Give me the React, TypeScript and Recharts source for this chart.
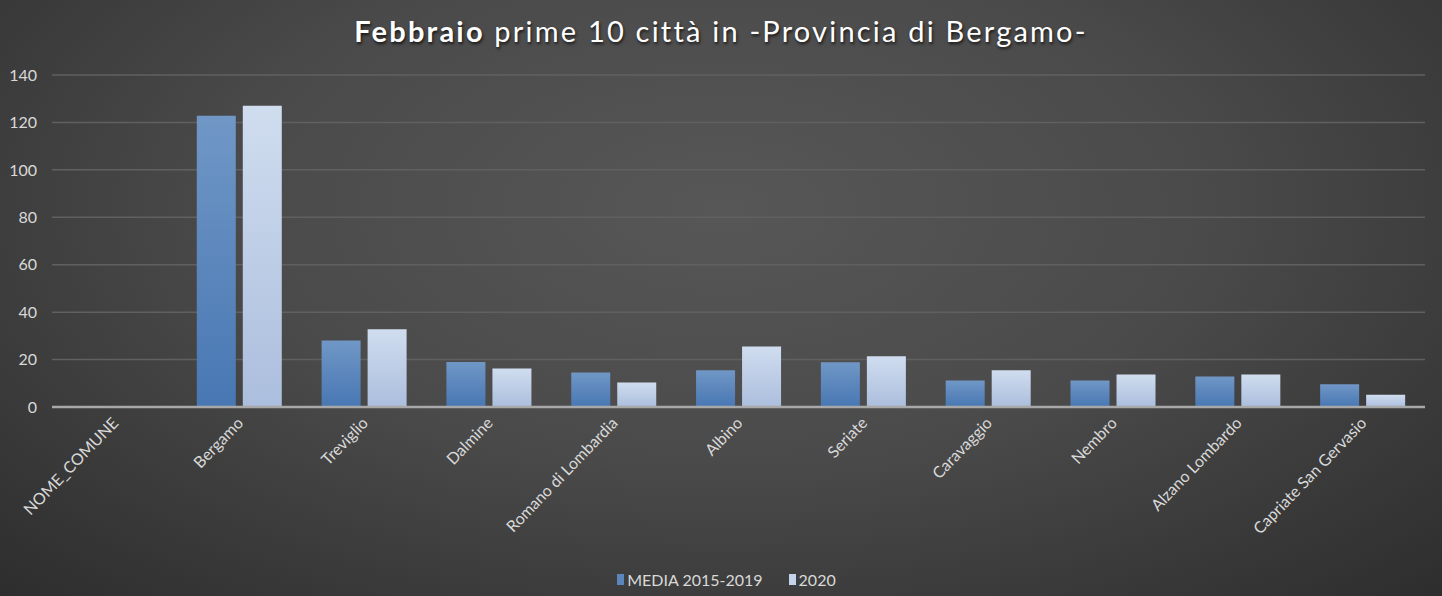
import React from "react";
import { Bar, BarChart, CartesianGrid, Legend, XAxis, YAxis } from "recharts";

const comuni = [
  "NOME_COMUNE",
  "Bergamo",
  "Treviglio",
  "Dalmine",
  "Romano di Lombardia",
  "Albino",
  "Seriate",
  "Caravaggio",
  "Nembro",
  "Alzano Lombardo",
  "Capriate San Gervasio",
];
const media20152019 = [0, 122.8, 28, 19, 14.6, 15.5, 18.9, 11.2, 11.2, 12.9, 9.6];
const anno2020 = [0, 127, 32.8, 16.2, 10.3, 25.5, 21.4, 15.5, 13.7, 13.7, 5.2];
const yTicks = [0, 20, 40, 60, 80, 100, 120, 140];

const FONT = "Lato, 'Open Sans', sans-serif";
const TEXT = "#d9d9d9";

const data = comuni.map((nome, i) => ({ nome, media: media20152019[i], v2020: anno2020[i] }));

function CityTick(props: any) {
  const { x, y, payload } = props;
  return (
    <text
      x={x + 5}
      y={y + 9}
      transform={`rotate(-46, ${x + 5}, ${y + 9})`}
      textAnchor="end"
      fill={TEXT}
      fontSize={16}
      fontFamily={FONT}
    >
      {payload.value}
    </text>
  );
}

function LegendBox() {
  const item = (color: string, label: string) => (
    <span style={{ display: "inline-flex", alignItems: "center", marginRight: 26 }}>
      <span style={{ width: 7, height: 11, background: color, marginRight: 3, display: "inline-block" }} />
      {label}
    </span>
  );
  return (
    <div style={{ textAlign: "center", color: TEXT, fontSize: 16, fontFamily: FONT, paddingLeft: 54 }}>
      {item("#5a86bd", "MEDIA 2015-2019")}
      {item("#c4d3ea", "2020")}
    </div>
  );
}

export default function App() {
  return (
    <div
      style={{
        position: "absolute",
        left: 0,
        top: 0,
        width: 1442,
        height: 596,
        background:
          "radial-gradient(ellipse 75% 95% at 50% 35%, #575757 0%, #4a4a4a 45%, #363636 80%, #2b2b2b 100%)",
        fontFamily: FONT,
      }}
    >
      <div
        style={{
          position: "absolute",
          top: 13,
          width: "100%",
          textAlign: "center",
          color: "#ffffff",
          fontSize: 29,
          fontFamily: FONT,
          textShadow: "1px 2px 3px rgba(0,0,0,0.7)",
          letterSpacing: 2.2,
        }}
      >
        <b>Febbraio</b> prime 10 città in -Provincia di Bergamo-
      </div>
      <BarChart
        width={1442}
        height={596}
        data={data}
        margin={{ top: 75, right: 17, left: 0, bottom: 8 }}
        barCategoryGap="16%"
        barGap={7}
      >
        <defs>
          <linearGradient id="gMedia" x1="0" y1="0" x2="0" y2="1">
            <stop offset="0%" stopColor="#7097c6" />
            <stop offset="100%" stopColor="#4877b3" />
          </linearGradient>
          <linearGradient id="g2020" x1="0" y1="0" x2="0" y2="1">
            <stop offset="0%" stopColor="#d0ddef" />
            <stop offset="100%" stopColor="#abbedd" />
          </linearGradient>
        </defs>
        <CartesianGrid vertical={false} stroke="#606060" strokeWidth={1.5} />
        <XAxis
          dataKey="nome"
          interval={0}
          height={161}
          tick={<CityTick />}
          tickLine={false}
          axisLine={{ stroke: "#a8a8a8", strokeWidth: 2.5 }}
        />
        <YAxis
          domain={[0, 140]}
          ticks={yTicks}
          width={52}
          tick={{ fill: TEXT, fontSize: 16, fontFamily: FONT }}
          tickMargin={9}
          axisLine={false}
          tickLine={false}
        />
        <Legend verticalAlign="bottom" content={<LegendBox />} wrapperStyle={{ bottom: 7 }} />
        <Bar dataKey="media" name="MEDIA 2015-2019" fill="url(#gMedia)" isAnimationActive={false} />
        <Bar dataKey="v2020" name="2020" fill="url(#g2020)" isAnimationActive={false} />
      </BarChart>
    </div>
  );
}
